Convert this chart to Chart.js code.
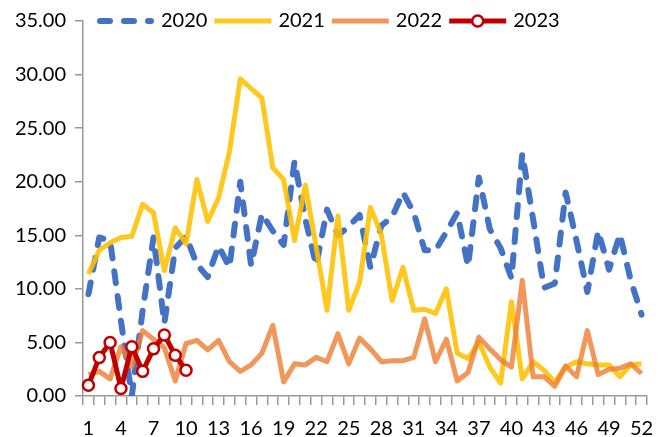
<!DOCTYPE html>
<html>
<head>
<meta charset="utf-8">
<script src="https://cdn.jsdelivr.net/npm/chart.js@4.4.0/dist/chart.umd.min.js"></script>
<style>
body { margin: 0; background: #fff; }
#wrap { width: 670px; height: 437px; }
</style>
</head>
<body>
<div id="wrap"><canvas id="weekChart" width="670" height="437"></canvas></div>
<script>
var weeks = [];
for (var w = 1; w <= 52; w++) { weeks.push(String(w)); }

var yTicks = [0, 5, 10, 15, 20, 25, 30, 35];

var seriesNames = ['2020', '2021', '2022', '2023'];

var values2020 = [9.5, 14.8, 14.5, 7.0, 0.0, 8.0, 14.8, 6.8, 13.8, 14.9,
                  12.3, 11.1, 14.0, 12.0, 20.0, 12.2, 17.0, 15.4, 14.1, 21.9,
                  16.5, 12.2, 17.4, 15.0, 15.8, 16.9, 12.0, 15.9, 16.7, 19.0,
                  17.1, 13.6, 13.6, 15.3, 17.1, 12.1, 20.4, 15.6, 13.8, 11.0,
                  22.6, 16.5, 10.1, 10.5, 19.0, 14.5, 9.7, 15.4, 11.8, 15.1,
                  10.8, 7.6];

var values2021 = [11.4, 13.6, 14.3, 14.8, 14.9, 17.9, 17.1, 11.7, 15.7, 14.2,
                  20.2, 16.3, 18.5, 22.8, 29.6, 28.7, 27.8, 21.3, 20.2, 14.5,
                  19.7, 13.9, 8.0, 16.8, 8.0, 10.6, 17.6, 15.1, 8.9, 12.0,
                  8.0, 8.1, 7.7, 10.0, 4.0, 3.5, 5.0, 2.7, 1.2, 8.8,
                  1.6, 3.2, 2.4, 1.3, 2.7, 3.2, 3.0, 2.9, 2.9, 1.8,
                  2.9, 3.0];

var values2022 = [2.0, 2.3, 1.6, 4.6, 2.7, 6.1, 5.3, 4.5, 1.4, 4.9,
                  5.2, 4.3, 5.2, 3.2, 2.3, 2.9, 4.0, 6.6, 1.3, 3.0,
                  2.9, 3.6, 3.2, 5.8, 3.0, 5.4, 4.4, 3.2, 3.3, 3.3,
                  3.6, 7.2, 3.2, 5.3, 1.4, 2.2, 5.5, 4.4, 3.4, 2.7,
                  10.8, 1.8, 1.8, 0.9, 2.8, 1.8, 6.1, 2.0, 2.5, 2.6,
                  3.0, 2.1];

var values2023 = [1.0, 3.6, 5.0, 0.7, 4.6, 2.3, 4.4, 5.7, 3.8, 2.4];

// legend drawn inside the plot, on the row of the top tick
var legendInside = {
    id: 'legendInside',
    afterDraw: function(chart) {
        var ctx = chart.ctx;
        var x = 97;
        var y = chart.scales.y.getPixelForValue(35);
        ctx.save();
        ctx.font = '20px Lato';
        ctx.textBaseline = 'middle';
        ctx.textAlign = 'left';
        chart.data.datasets.forEach(function(ds) {
            var half = ds.borderCapStyle === 'round' ? ds.borderWidth / 2 : 0;
            ctx.beginPath();
            ctx.strokeStyle = ds.borderColor;
            ctx.lineWidth = ds.borderWidth;
            ctx.lineCap = ds.borderCapStyle || 'butt';
            ctx.setLineDash(ds.legendDash || ds.borderDash || []);
            ctx.moveTo(x + half, y);
            ctx.lineTo(x + 57 - half, y);
            ctx.stroke();
            ctx.setLineDash([]);
            if (ds.pointRadius > 0) {
                ctx.beginPath();
                ctx.arc(x + 28.5, y, ds.pointRadius, 0, Math.PI * 2);
                ctx.fillStyle = ds.pointBackgroundColor;
                ctx.fill();
                ctx.lineWidth = ds.pointBorderWidth;
                ctx.strokeStyle = ds.pointBorderColor;
                ctx.stroke();
            }
            x += 57 + 7;
            ctx.fillStyle = '#000';
            ctx.fillText(ds.label, x, y);
            x += ctx.measureText(ds.label).width + 7;
        });
        ctx.restore();
    }
};

function drawChart() {
    Chart.defaults.font.family = 'Lato';
    Chart.defaults.font.size = 20;
    Chart.defaults.color = '#000';

    var ctx = document.getElementById('weekChart').getContext('2d');
    new Chart(ctx, {
        type: 'line',
        data: {
            labels: weeks,
            datasets: [{
                label: seriesNames[0],
                data: values2020,
                borderColor: '#4472C4',
                borderWidth: 6,
                borderDash: [12, 13],
                legendDash: [10, 14],
                borderCapStyle: 'round',
                borderJoinStyle: 'round',
                pointRadius: 0,
                fill: false,
                tension: 0,
                order: 4
            }, {
                label: seriesNames[1],
                data: values2021,
                borderColor: 'rgba(255,192,0,0.88)',
                borderWidth: 5,
                borderJoinStyle: 'round',
                pointRadius: 0,
                fill: false,
                tension: 0,
                order: 3
            }, {
                label: seriesNames[2],
                data: values2022,
                borderColor: 'rgba(237,125,49,0.8)',
                borderWidth: 5,
                borderJoinStyle: 'round',
                pointRadius: 0,
                fill: false,
                tension: 0,
                order: 2
            }, {
                label: seriesNames[3],
                data: values2023,
                borderColor: '#C00000',
                borderWidth: 5,
                borderJoinStyle: 'round',
                pointRadius: 5.5,
                pointBorderWidth: 2.5,
                pointBackgroundColor: '#FFFFFF',
                pointBorderColor: '#C00000',
                fill: false,
                tension: 0,
                order: 1
            }]
        },
        options: {
            responsive: false,
            animation: false,
            layout: { padding: { top: 19, right: 23, left: 0, bottom: 0 } },
            plugins: {
                legend: { display: false },
                tooltip: { enabled: false }
            },
            scales: {
                x: {
                    type: 'category',
                    offset: true,
                    border: { color: '#999999', width: 1.5 },
                    grid: { offset: true, drawOnChartArea: false, tickLength: 9, color: '#999999', lineWidth: 1.5 },
                    ticks: {
                        autoSkip: false,
                        maxRotation: 0,
                        padding: 12,
                        callback: function(val, idx) {
                            return idx % 3 === 0 ? weeks[idx] : '';
                        }
                    },
                    afterFit: function(scale) { scale.height = 41; }
                },
                y: {
                    min: yTicks[0],
                    max: yTicks[yTicks.length - 1],
                    border: { color: '#999999', width: 1.5 },
                    grid: { drawOnChartArea: false, tickLength: 8, color: '#999999', lineWidth: 1.5 },
                    afterBuildTicks: function(scale) {
                        scale.ticks = yTicks.map(function(v) { return { value: v }; });
                    },
                    ticks: {
                        padding: 9,
                        callback: function(v) { return Number(v).toFixed(2); }
                    },
                    afterFit: function(scale) { scale.width = 83; }
                }
            }
        },
        plugins: [legendInside]
    });
}

window.addEventListener('load', drawChart);
</script>
</body>
</html>
